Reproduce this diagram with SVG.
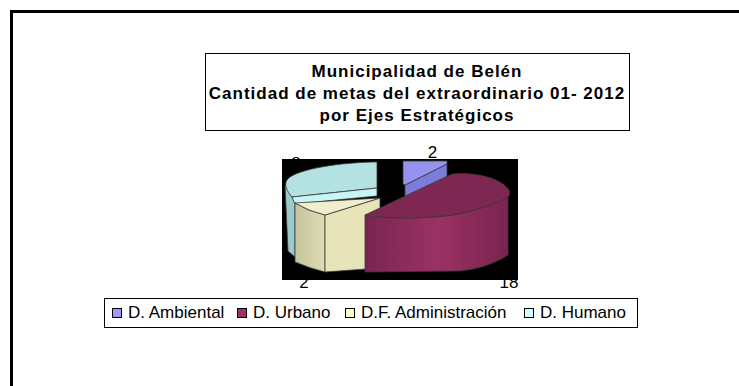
<svg xmlns="http://www.w3.org/2000/svg" width="739" height="386" viewBox="0 0 739 386">
<style>
 .t{font-family:"Liberation Sans",Arial,sans-serif;font-weight:bold;font-size:17px;fill:#000;text-anchor:middle;letter-spacing:1px}
 .l{font-family:"Liberation Sans",Arial,sans-serif;font-size:17px;fill:#000}
 .v{font-family:"Liberation Sans",Arial,sans-serif;font-size:17px;fill:#000;text-anchor:middle}
 .e{stroke:#3a3a3a;stroke-width:0.8;stroke-linejoin:round}
 .sq{stroke:#000;stroke-width:1}
 .box{fill:#fff;stroke:#000;stroke-width:1}
</style>
<defs>
 <linearGradient id="gM" x1="0" x2="1" y1="0" y2="0">
  <stop offset="0" stop-color="#7a2450"/>
  <stop offset="0.5" stop-color="#9a3264"/>
  <stop offset="1" stop-color="#7a2450"/>
 </linearGradient>
 <linearGradient id="gY" x1="0" x2="1" y1="0" y2="0">
  <stop offset="0" stop-color="#c4c39c"/>
  <stop offset="1" stop-color="#dedcb2"/>
 </linearGradient>
</defs>
<rect width="739" height="386" fill="#fff"/>
<path d="M11.5,386 V11.5 H739" fill="none" stroke="#000" stroke-width="3"/>

<g id="title">
 <rect class="box" x="205.5" y="53.5" width="424" height="77"/>
 <text class="t" x="417" y="77">Municipalidad de Belén</text>
 <text class="t" x="417" y="99">Cantidad de metas del extraordinario 01- 2012</text>
 <text class="t" x="417" y="121">por Ejes Estratégicos</text>
</g>

<g id="labels">
 <text class="v" x="432.5" y="157.5">2</text>
 <text class="v" x="296" y="169">8</text>
 <text class="v" x="304" y="288">2</text>
 <text class="v" x="509" y="288">18</text>
</g>

<g id="pie">
 <rect x="282" y="159" width="236" height="121" fill="#000"/>
 <g id="slice-humano">
  <path class="e" d="M285,185 L292,197 L295,203 L295,257 L288,251 Z" fill="#9ccaca"/>
  <path class="e" d="M377,162 C350,162 305,167 290,177 C284,181 284,188 292,197 L377,188 Z" fill="#b4e2e2"/>
  <path class="e" d="M292,197 L377,188 L377,196 L295,204 Z" fill="#c8f4f4"/>
 </g>
 <g id="slice-administracion">
  <path class="e" d="M295,203 Q308,211 325,215 L325,272 Q309,268 295,262 Z" fill="url(#gY)"/>
  <path class="e" d="M325,215 L380,198 L380,268 L325,272 Z" fill="#e6e4b8"/>
  <path class="e" d="M295,203 L380,198 L325,215 Q308,211 295,203 Z" fill="#f0eecc"/>
 </g>
 <g id="slice-ambiental">
  <path class="e" d="M405,185 L447,164 L447,210 L405,228 Z" fill="#7c7cdc"/>
  <path class="e" d="M403,161 L447,161 L447,164 L405,185 L403,184 Z" fill="#9494f0"/>
 </g>
 <g id="slice-urbano">
  <path class="e" d="M365,215 C390,219 420,219 453,215 C475,211 495,204 508,197 L508,255 C495,263 480,269 460,271 L365,272 Z" fill="url(#gM)"/>
  <path class="e" d="M365,215 L452,174 C470,172 492,176 503,184 C510,189 511,194 508,197 C495,204 475,211 453,215 C420,219 390,219 365,215 Z" fill="#7e2753"/>
 </g>
</g>

<g id="legend">
 <rect class="box" x="104.5" y="298.5" width="533" height="29"/>
 <rect class="sq" x="112.5" y="308.5" width="9" height="9" fill="#9999ff"/>
 <text class="l" x="128" y="318">D. Ambiental</text>
 <rect class="sq" x="237.5" y="308.5" width="9" height="9" fill="#993366"/>
 <text class="l" x="253" y="318">D. Urbano</text>
 <rect class="sq" x="345.5" y="308.5" width="9" height="9" fill="#ffffcc"/>
 <text class="l" x="361" y="318">D.F. Administración</text>
 <rect class="sq" x="524.5" y="308.5" width="9" height="9" fill="#ccffff"/>
 <text class="l" x="540" y="318">D. Humano</text>
</g>
</svg>
